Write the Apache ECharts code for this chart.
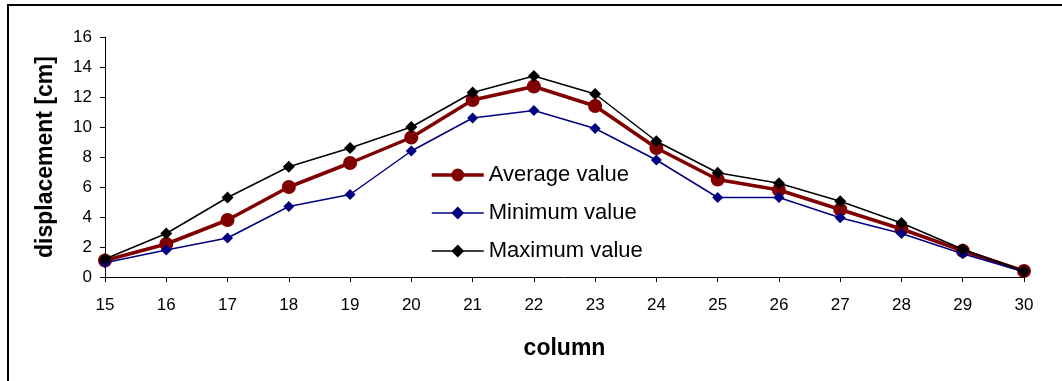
<!DOCTYPE html>
<html>
<head>
<meta charset="utf-8">
<script src="https://cdn.jsdelivr.net/npm/echarts@6/dist/echarts.min.js"></script>
<style>
	html, body { margin: 0; padding: 0; background: #fff; }
	#chart { width: 1062px; height: 381px; }
</style>
</head>
<body>
<div id="chart"></div>
<script>
var columns = ['15', '16', '17', '18', '19', '20', '21', '22', '23', '24', '25', '26', '27', '28', '29', '30'];
var avgValues = [1.1, 2.2, 3.8, 6.0, 7.6, 9.3, 11.8, 12.7, 11.4, 8.6, 6.5, 5.8, 4.5, 3.2, 1.75, 0.4];
var minValues = [0.95, 1.8, 2.6, 4.7, 5.5, 8.4, 10.6, 11.1, 9.9, 7.8, 5.3, 5.3, 3.95, 2.9, 1.55, 0.35];
var maxValues = [1.2, 2.9, 5.3, 7.35, 8.6, 10.0, 12.3, 13.4, 12.2, 9.05, 6.95, 6.25, 5.05, 3.6, 1.85, 0.4];

var fontFam = 'Arial, "Liberation Sans", sans-serif';

var chart = echarts.init(document.getElementById('chart'));
var option = {
	backgroundColor: '#fff',
	textStyle: { fontFamily: fontFam },
	animation: false,
	graphic: [{
		type: 'rect',
		shape: { x: 8, y: 5, width: 1100, height: 420 },
		style: { fill: 'none', stroke: '#000', lineWidth: 2 }
	}],
	grid: { left: 105, right: 38, top: 37, bottom: 104 },
	legend: {
		orient: 'vertical',
		left: 430,
		top: 164,
		padding: 0,
		itemGap: 16,
		itemWidth: 52,
		itemHeight: 16,
		textStyle: { fontSize: 22, color: '#000', fontFamily: fontFam },
		data: [
			{ name: 'Average value', lineStyle: { width: 3.5 } },
			{ name: 'Minimum value', lineStyle: { width: 1.5 } },
			{ name: 'Maximum value', lineStyle: { width: 1.5 } }
		]
	},
	xAxis: {
		type: 'category',
		data: columns,
		boundaryGap: false,
		name: 'column',
		nameLocation: 'middle',
		nameGap: 60,
		nameTextStyle: { fontSize: 23, fontWeight: 'bold', color: '#000' },
		axisLine: { lineStyle: { color: '#000', width: 1 } },
		axisTick: { alignWithLabel: true, length: 5, lineStyle: { color: '#000' } },
		axisLabel: { fontSize: 17, color: '#000', margin: 20 },
		splitLine: { show: false }
	},
	yAxis: {
		type: 'value',
		min: 0,
		max: 16,
		interval: 2,
		name: 'displacement [cm]',
		nameLocation: 'middle',
		nameGap: 48,
		nameTextStyle: { fontSize: 23, fontWeight: 'bold', color: '#000' },
		axisLine: { show: true, lineStyle: { color: '#000', width: 1 } },
		axisTick: { show: true, length: 5, lineStyle: { color: '#000' } },
		axisLabel: { fontSize: 17, color: '#000', margin: 13 },
		splitLine: { show: false }
	},
	series: [
		{
			name: 'Average value',
			type: 'line',
			data: avgValues,
			symbol: 'circle',
			symbolSize: 14,
			itemStyle: { color: '#800000' },
			lineStyle: { color: '#800000', width: 3.5 },
			z: 2
		},
		{
			name: 'Minimum value',
			type: 'line',
			data: minValues,
			symbol: 'diamond',
			symbolSize: 11,
			itemStyle: { color: '#000080' },
			lineStyle: { color: '#000080', width: 1.5 },
			z: 3
		},
		{
			name: 'Maximum value',
			type: 'line',
			data: maxValues,
			symbol: 'diamond',
			symbolSize: 12,
			itemStyle: { color: '#000' },
			lineStyle: { color: '#000', width: 1.5 },
			z: 4
		}
	]
};
chart.setOption(option);
</script>
</body>
</html>
